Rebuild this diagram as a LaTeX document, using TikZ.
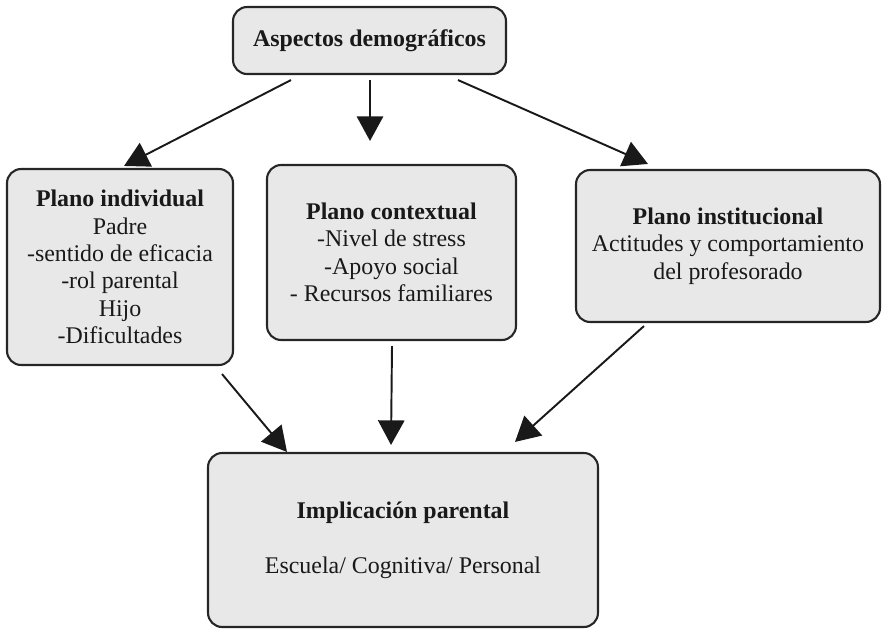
\documentclass[tikz,border=0pt]{standalone}
\usepackage{fontspec}
\setmainfont{Liberation Serif}
\usetikzlibrary{arrows.meta,calc}

\begin{document}
\begin{tikzpicture}[x=0.02cm,y=-0.02cm,
    box/.style={draw=black!85,line width=1.2pt,rounded corners=8pt,fill=black!9,
      text=black!90,align=center,inner sep=0pt,font=\fontsize{13.6}{15.6}\selectfont},
    arr/.style={draw=black!90,line width=1.1pt,-{Triangle[length=14pt,width=15pt]}}]
  \useasboundingbox (0,0) rectangle (882,629);
  \node[box,minimum width=5.46cm,minimum height=1.34cm] (demo) at (369.5,40.5)
    {\textbf{Aspectos demográficos}};
  \node[box,minimum width=4.52cm,minimum height=3.92cm] (indiv) at (120,267)
    {\textbf{Plano individual}\\Padre\\-sentido de eficacia\\-rol parental\\Hijo\\-Dificultades};
  \node[box,minimum width=4.98cm,minimum height=3.5cm] (contex) at (391.5,252.5)
    {\textbf{Plano contextual}\\-Nivel de stress\\-Apoyo social\\- Recursos familiares};
  \node[box,minimum width=6.08cm,minimum height=3.04cm] (instit) at (728,246)
    {\textbf{Plano institucional}\\Actitudes y comportamiento\\del profesorado};
  \node[box,minimum width=7.8cm,minimum height=3.48cm] (impl) at (403,540)
    {\textbf{Implicación parental}\\[15.6pt]Escuela/ Cognitiva/ Personal};

  \draw[arr] ($(demo.south)+(-78.5,5)$) -- ($(indiv.north)+(4,-2)$);
  \draw[arr] ($(demo.south)+(0.5,5)$) -- ($(contex.north)+(-21.5,-23)$);
  \draw[arr] ($(demo.south)+(88.5,5)$) -- ($(instit.north)+(-80,-5)$);
  \draw[arr] ($(indiv.south)+(102,8)$) -- ($(impl.north)+(-116,0)$);
  \draw[arr] ($(contex.south)+(0.5,5)$) -- ($(impl.north)+(-12,-7)$);
  \draw[arr] ($(instit.south)+(-84,3)$) -- ($(impl.north)+(112,-10)$);
\end{tikzpicture}
\end{document}
